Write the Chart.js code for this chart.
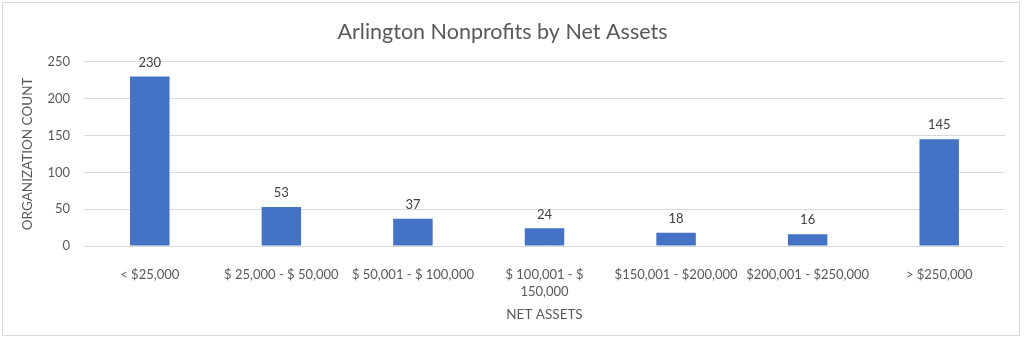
<!DOCTYPE html>
<html>
<head>
<meta charset="utf-8">
<script src="https://cdn.jsdelivr.net/npm/chart.js@4/dist/chart.umd.min.js"></script>
<style>
  html, body { margin: 0; padding: 0; background: #fff; }
  #wrap { position: relative; width: 1024px; height: 340px; }
  #frame { position: absolute; left: 2px; top: 2px; width: 1016px; height: 332px; border: 1px solid #d9d9d9; pointer-events: none; }
</style>
</head>
<body>
<div id="wrap">
  <canvas id="assetChart" width="1024" height="340"></canvas>
  <div id="frame"></div>
</div>
<script>
const categories = [
    '< $25,000',
    '$ 25,000 - $ 50,000',
    '$ 50,001 - $ 100,000',
    ['$ 100,001 - $', '150,000'],
    '$150,001 - $200,000',
    '$200,001 - $250,000',
    '> $250,000'
];
const orgCounts = [230, 53, 37, 24, 18, 16, 145];
const yTicks = [0, 50, 100, 150, 200, 250];

const textGray = '#595959';
const fontFamily = 'Lato, "Open Sans", sans-serif';

// value labels above each bar
const barLabels = {
    id: 'barLabels',
    afterDatasetsDraw(chart) {
        const ctx = chart.ctx;
        const meta = chart.getDatasetMeta(0);
        ctx.save();
        ctx.font = '13px ' + fontFamily;
        ctx.fillStyle = '#404040';
        ctx.textAlign = 'center';
        ctx.textBaseline = 'middle';
        meta.data.forEach((bar, i) => {
            ctx.fillText(String(orgCounts[i]), bar.x, bar.y - 14);
        });
        ctx.restore();
    }
};

new Chart(document.getElementById('assetChart'), {
    type: 'bar',
    data: {
        labels: categories,
        datasets: [{
            label: 'Organization Count',
            data: orgCounts,
            backgroundColor: '#4472C4',
            borderWidth: 0,
            barPercentage: 0.6,
            categoryPercentage: 0.5
        }]
    },
    options: {
        responsive: false,
        animation: false,
        layout: { padding: { left: 0, right: 19, top: 0, bottom: 0 } },
        plugins: {
            legend: { display: false },
            tooltip: { enabled: false },
            title: {
                display: true,
                text: 'Arlington Nonprofits by Net Assets',
                color: textGray,
                font: { family: fontFamily, size: 21.5, weight: 'normal', lineHeight: 1.2 },
                padding: { top: 19, bottom: 17 }
            }
        },
        scales: {
            x: {
                grid: { display: false },
                border: { display: false },
                ticks: {
                    color: textGray,
                    font: { family: fontFamily, size: 13, lineHeight: 1.3 },
                    padding: 12,
                    maxRotation: 0,
                    autoSkip: false
                },
                title: {
                    display: true,
                    text: 'NET ASSETS',
                    color: textGray,
                    font: { family: fontFamily, size: 13.5, lineHeight: 1.2 },
                    padding: { top: 0, bottom: 17 }
                },
                afterFit(scale) { scale.height = 94; }
            },
            y: {
                min: 0,
                max: 250,
                afterBuildTicks(scale) { scale.ticks = yTicks.map(v => ({ value: v })); },
                grid: { color: '#d9d9d9', lineWidth: 1, drawTicks: false },
                border: { display: false },
                ticks: {
                    color: textGray,
                    font: { family: fontFamily, size: 13 },
                    padding: 14
                },
                title: {
                    display: true,
                    text: 'ORGANIZATION COUNT',
                    color: textGray,
                    font: { family: fontFamily, size: 13.5, lineHeight: 1.2 },
                    padding: { top: 20, bottom: 0 }
                },
                afterFit(scale) { scale.width = 84; }
            }
        }
    },
    plugins: [barLabels]
});
</script>
</body>
</html>
